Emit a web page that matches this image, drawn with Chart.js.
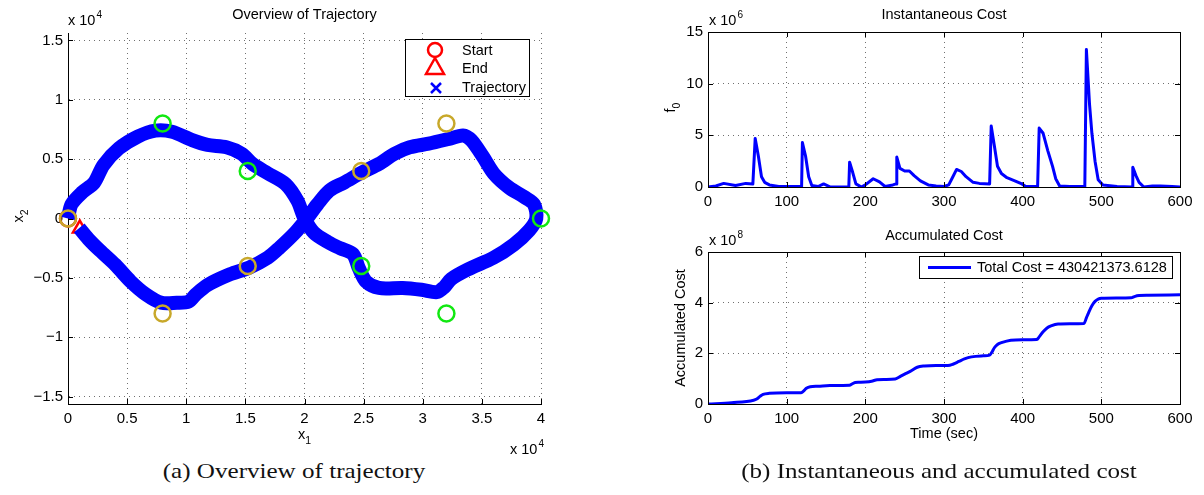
<!DOCTYPE html>
<html>
<head>
<meta charset="utf-8">
<script src="https://cdn.jsdelivr.net/npm/chart.js@4.4.1/dist/chart.umd.min.js"></script>
<style>
  body { margin: 0; background: #fff; width: 1204px; height: 495px; position: relative; overflow: hidden; }
  .pane { position: absolute; }
  .cap { position: absolute; top: 458px; font-family: "Liberation Serif", "DejaVu Serif", serif; font-size: 22px;
         color: #111; white-space: nowrap; transform: translateX(-50%) scaleX(1.14); }
</style>
</head>
<body>
<div class="pane" style="left:0;top:0;width:580px;height:455px"><canvas id="traj" width="580" height="455"></canvas></div>
<div class="pane" style="left:600px;top:0;width:604px;height:220px"><canvas id="inst" width="604" height="220"></canvas></div>
<div class="pane" style="left:600px;top:220px;width:604px;height:240px"><canvas id="acc" width="604" height="240"></canvas></div>
<div class="cap" style="left:294px">(a) Overview of trajectory</div>
<div class="cap" style="left:939px">(b) Instantaneous and accumulated cost</div>
<script>
// trajectory, in units of 1e4
const trajX = [0, 0.03, 0.12, 0.22, 0.30, 0.43, 0.59, 0.74, 0.88, 1.05, 1.18, 1.34, 1.47, 1.56, 1.69, 1.84, 1.94, 2.0,
  2.08, 2.2, 2.3, 2.41, 2.46, 2.52, 2.63, 2.83, 2.99, 3.12, 3.18, 3.24, 3.38, 3.60, 3.77, 3.90, 3.96, 3.94, 3.86, 3.73,
  3.60, 3.51, 3.41, 3.34, 3.22, 3.05, 2.89, 2.76, 2.63, 2.49, 2.34, 2.21, 2.11, 2.02, 1.92, 1.79, 1.69, 1.53, 1.37,
  1.18, 1.08, 1.02, 0.92, 0.79, 0.66, 0.53, 0.40, 0.27, 0.17, 0.095];
const trajY = [0, 0.12, 0.22, 0.30, 0.45, 0.59, 0.69, 0.74, 0.73, 0.66, 0.62, 0.60, 0.545, 0.46, 0.38, 0.29, 0.15, 0.0,
  -0.12, -0.2, -0.25, -0.30, -0.42, -0.53, -0.585, -0.585, -0.60, -0.62, -0.58, -0.51, -0.43, -0.33, -0.22, -0.10, 0.0,
  0.12, 0.18, 0.26, 0.38, 0.52, 0.66, 0.70, 0.67, 0.63, 0.60, 0.545, 0.46, 0.39, 0.305, 0.235, 0.12, 0.0, -0.12, -0.245,
  -0.33, -0.415, -0.47, -0.56, -0.64, -0.70, -0.71, -0.71, -0.64, -0.53, -0.39, -0.27, -0.17, -0.08];
const startPt = { x: 0, y: 0 };
const endPt = { x: 0.1, y: -0.085 };
const greenX = [0.8, 1.52, 4.0, 2.48, 3.2];
const greenY = [0.8, 0.4, 0.0, -0.4, -0.8];
const goldX = [0, 0.8, 1.52, 2.48, 3.2];
const goldY = [0, -0.8, -0.4, 0.4, 0.8];
const trajXTicks = [0, 0.5, 1, 1.5, 2, 2.5, 3, 3.5, 4];
const trajYTicks = [-1.5, -1, -0.5, 0, 0.5, 1, 1.5];

// instantaneous cost, units of 1e6
const instTime = [0, 10, 20, 35, 48, 57, 60, 64, 68, 72, 78, 90, 119, 120, 124, 128, 132, 140, 147, 155,
  179, 180, 184, 188, 195, 200, 210, 218, 225, 235, 239, 240, 244, 250, 256, 262, 270, 280, 290, 300,
  306, 310, 316, 322, 328, 337, 345, 358, 360, 364, 368, 373, 380, 390, 399, 404, 419, 421, 426, 432,
  438, 442, 447, 460, 479, 481, 485, 488, 492, 496, 502, 520, 539, 540, 544, 548, 554, 565, 575, 590, 600];
const instCost = [0, 0.1, 0.35, 0.15, 0.35, 0.28, 4.7, 3.0, 1.0, 0.45, 0.2, 0.05, 0.05, 4.3, 3.0, 1.0, 0.15, 0.05, 0.3, 0.02,
  0.0, 2.4, 1.4, 0.3, 0.0, 0.2, 0.8, 0.5, 0.05, 0.2, 0.3, 2.9, 1.8, 1.55, 1.55, 1.1, 0.6, 0.2, 0.1, 0.05,
  0.2, 0.8, 1.7, 1.5, 1.0, 0.45, 0.35, 0.3, 5.9, 4.0, 2.0, 1.3, 0.9, 0.6, 0.3, 0.05, 0.05, 5.7, 5.2, 3.5,
  2.0, 0.8, 0.1, 0.05, 0.05, 13.3, 8.0, 5.2, 2.5, 0.7, 0.2, 0.05, 0.0, 1.9, 1.1, 0.45, 0.0, 0.1, 0.1, 0.05, 0];

// accumulated cost, units of 1e8
const accTime = [0, 30, 58, 62, 66, 70, 78, 100, 118, 121, 125, 130, 140, 155, 180, 183, 187, 192, 200, 208,
  215, 225, 238, 245, 250, 257, 266, 275, 290, 305, 312, 319, 326, 335, 350, 358, 361, 364, 368, 373,
  385, 400, 418, 421, 426, 431, 436, 445, 460, 478, 481, 484, 488, 492, 496, 500, 520, 538, 542, 548, 560, 600];
const accCost = [0, 0.05, 0.15, 0.2, 0.3, 0.38, 0.42, 0.44, 0.44, 0.5, 0.62, 0.68, 0.70, 0.73, 0.74, 0.79, 0.85, 0.86, 0.87, 0.9,
  0.96, 0.97, 0.99, 1.1, 1.18, 1.29, 1.45, 1.5, 1.52, 1.52, 1.58, 1.68, 1.78, 1.86, 1.9, 1.93, 2.05, 2.22, 2.35, 2.42,
  2.52, 2.54, 2.55, 2.65, 2.85, 3.0, 3.08, 3.16, 3.17, 3.18, 3.4, 3.62, 3.88, 4.05, 4.14, 4.17, 4.18, 4.19, 4.24, 4.28, 4.29, 4.31];
const timeTicks = [0, 100, 200, 300, 400, 500, 600];
const instTicks = [0, 5, 10, 15];
const accTicks = [0, 2, 4, 6];
const totalCostLabel = "Total Cost = 430421373.6128";

const FAMILY = '"Liberation Sans", Arial, sans-serif';
const FS = 14.5;
const TICK_FS = 15;
const f = (sz) => sz + "px " + FAMILY;
const BLUE = "#0000ff";
const GRID = "#707070";

function pts(xs, ys) { return xs.map((x, i) => ({ x: x, y: ys[i] })); }
function fmt(v) { return v < 0 ? "\u2212" + Math.abs(v) : String(v); }

function expLabel(ctx, x, y, exp) {
  ctx.fillStyle = "#000"; ctx.textAlign = "left"; ctx.textBaseline = "middle";
  ctx.font = f(FS); ctx.fillText("x 10", x, y);
  const w = ctx.measureText("x 10").width;
  ctx.font = f(10); ctx.fillText(exp, x + w + 1, y - 6);
}

function subLabel(ctx, x, y, base, sub, rot) {
  ctx.save(); ctx.translate(x, y); if (rot) ctx.rotate(-Math.PI / 2);
  ctx.fillStyle = "#000"; ctx.textAlign = "left"; ctx.textBaseline = "middle";
  ctx.font = f(FS); const w = ctx.measureText(base).width;
  ctx.font = f(10.5); const w2 = ctx.measureText(sub).width;
  ctx.font = f(FS); ctx.fillText(base, -(w + w2) / 2, 0);
  ctx.font = f(10.5); ctx.fillText(sub, -(w + w2) / 2 + w, 6);
  ctx.restore();
}

function centerText(ctx, txt, x, y, rot) {
  ctx.save(); ctx.translate(x, y); if (rot) ctx.rotate(-Math.PI / 2);
  ctx.fillStyle = "#000"; ctx.font = f(FS); ctx.textAlign = "center"; ctx.textBaseline = "middle";
  ctx.fillText(txt, 0, 0); ctx.restore();
}

function innerTicks(chart, full) {
  const { ctx, chartArea: a, scales: { x, y } } = chart;
  const L = 5;
  ctx.save(); ctx.strokeStyle = "#000"; ctx.lineWidth = 1; ctx.beginPath();
  x.ticks.forEach(t => {
    const p = Math.round(x.getPixelForValue(t.value)) + 0.5;
    ctx.moveTo(p, a.bottom); ctx.lineTo(p, a.bottom - L);
    if (full) { ctx.moveTo(p, a.top); ctx.lineTo(p, a.top + L); }
  });
  y.ticks.forEach(t => {
    const p = Math.round(y.getPixelForValue(t.value)) + 0.5;
    ctx.moveTo(a.left, p); ctx.lineTo(a.left + L, p);
    if (full) { ctx.moveTo(a.right, p); ctx.lineTo(a.right - L, p); }
  });
  ctx.stroke();
  if (full) {
    ctx.strokeRect(Math.round(a.left) + 0.5, Math.round(a.top) + 0.5, Math.round(a.right - a.left), Math.round(a.bottom - a.top));
  }
  ctx.restore();
}

function axisOpts(min, max, tickList, fit, isX) {
  return {
    type: "linear", min: min, max: max,
    afterBuildTicks: s => { s.ticks = tickList.map(v => ({ value: v })); },
    afterFit: s => { if (isX) s.height = fit; else s.width = fit; },
    ticks: { color: "#000", font: { family: FAMILY, size: TICK_FS }, padding: isX ? 6 : 5,
             maxRotation: 0, autoSkip: false, callback: v => fmt(v) },
    grid: { color: GRID, lineWidth: 1, drawTicks: false },
    border: { display: false, dash: [1, 4] }
  };
}

const base = {
  responsive: false, animation: false, events: [],
  plugins: { legend: { display: false }, tooltip: { enabled: false }, title: { display: false } }
};

// (a) trajectory
new Chart(document.getElementById("traj"), {
  type: "scatter",
  data: {
    datasets: [
      { data: pts(greenX, greenY), pointStyle: "circle", pointRadius: 8, pointBorderWidth: 2.5,
        pointBorderColor: "#11e811", pointBackgroundColor: "rgba(0,0,0,0)", clip: false, order: 0 },
      { data: pts(goldX, goldY), pointStyle: "circle", pointRadius: 8, pointBorderWidth: 2.5,
        pointBorderColor: "#c8a82a", pointBackgroundColor: "rgba(0,0,0,0)", clip: false, order: 0 },
      { data: pts(trajX, trajY), showLine: true, borderColor: BLUE, borderWidth: 14, pointRadius: 0,
        tension: 0.3, borderJoinStyle: "round", borderCapStyle: "butt", clip: false, order: 1 },
      { data: [endPt], pointStyle: "triangle", pointRadius: 8, pointBorderWidth: 2.5,
        pointBorderColor: "#ff0000", pointBackgroundColor: "rgba(0,0,0,0)", clip: false, order: 2 },
      { data: [startPt], pointStyle: "circle", pointRadius: 8, pointBorderWidth: 2.5,
        pointBorderColor: "#ff0000", pointBackgroundColor: "rgba(0,0,0,0)", clip: false, order: 3 }
    ]
  },
  options: Object.assign({}, base, {
    layout: { padding: { top: 33, right: 39, left: 0, bottom: 0 } },
    scales: {
      x: Object.assign(axisOpts(0, 4, trajXTicks, 51, true), { border: { display: true, color: "#000", width: 1, dash: [1, 4] } }),
      y: Object.assign(axisOpts(-1.5625, 1.5625, trajYTicks, 68, false), { border: { display: true, color: "#000", width: 1, dash: [1, 4] } })
    }
  }),
  plugins: [{
    id: "deco",
    afterDraw(chart) {
      const { ctx, chartArea: a } = chart;
      innerTicks(chart, false);
      centerText(ctx, "Overview of Trajectory", (a.left + a.right) / 2, 15);
      expLabel(ctx, a.left, 21, "4");
      expLabel(ctx, 510, 450, "4");
      subLabel(ctx, (a.left + a.right) / 2, 435, "x", "1", false);
      subLabel(ctx, 19, 216, "x", "2", true);
      // legend
      ctx.save();
      ctx.fillStyle = "#fff"; ctx.fillRect(405, 39, 124, 58);
      ctx.strokeStyle = "#000"; ctx.lineWidth = 1; ctx.strokeRect(405.5, 39.5, 124, 57);
      ctx.strokeStyle = "#ff0000"; ctx.lineWidth = 2.5;
      ctx.beginPath(); ctx.arc(435, 50, 7, 0, Math.PI * 2); ctx.stroke();
      ctx.beginPath(); ctx.moveTo(435, 58); ctx.lineTo(444, 74); ctx.lineTo(426, 74); ctx.closePath(); ctx.stroke();
      ctx.strokeStyle = BLUE;
      ctx.beginPath(); ctx.moveTo(431, 83); ctx.lineTo(441, 93); ctx.moveTo(441, 83); ctx.lineTo(431, 93); ctx.stroke();
      ctx.fillStyle = "#000"; ctx.font = f(FS); ctx.textAlign = "left"; ctx.textBaseline = "middle";
      ctx.fillText("Start", 462, 51); ctx.fillText("End", 462, 69); ctx.fillText("Trajectory", 462, 88);
      ctx.restore();
    }
  }]
});

// (b) instantaneous cost
new Chart(document.getElementById("inst"), {
  type: "line",
  data: { datasets: [{ data: pts(instTime, instCost), borderColor: BLUE, borderWidth: 3, pointRadius: 0, tension: 0,
                       borderJoinStyle: "round" }] },
  options: Object.assign({}, base, {
    layout: { padding: { top: 32, right: 24, left: 0, bottom: 0 } },
    scales: { x: axisOpts(0, 600, timeTicks, 33, true), y: axisOpts(0, 15, instTicks, 108, false) }
  }),
  plugins: [{
    id: "deco",
    afterDraw(chart) {
      const { ctx, chartArea: a } = chart;
      innerTicks(chart, true);
      centerText(ctx, "Instantaneous Cost", (a.left + a.right) / 2, 15);
      expLabel(ctx, a.left + 1, 21, "6");
      subLabel(ctx, 71, (a.top + a.bottom) / 2 - 2, "f", "0", true);
    }
  }]
});

// (b) accumulated cost
new Chart(document.getElementById("acc"), {
  type: "line",
  data: { datasets: [{ data: pts(accTime, accCost), borderColor: BLUE, borderWidth: 3, pointRadius: 0,
                        cubicInterpolationMode: "monotone" }] },
  options: Object.assign({}, base, {
    layout: { padding: { top: 32, right: 24, left: 0, bottom: 0 } },
    scales: { x: axisOpts(0, 600, timeTicks, 56, true), y: axisOpts(0, 6, accTicks, 108, false) }
  }),
  plugins: [{
    id: "deco",
    afterDraw(chart) {
      const { ctx, chartArea: a } = chart;
      innerTicks(chart, true);
      centerText(ctx, "Accumulated Cost", (a.left + a.right) / 2, 16);
      expLabel(ctx, a.left + 1, 21, "8");
      centerText(ctx, "Accumulated Cost", 81, (a.top + a.bottom) / 2, true);
      centerText(ctx, "Time (sec)", (a.left + a.right) / 2, 214);
      // legend
      ctx.save();
      ctx.fillStyle = "#fff"; ctx.fillRect(319, 36, 254, 23);
      ctx.strokeStyle = "#000"; ctx.lineWidth = 1; ctx.strokeRect(319.5, 36.5, 253, 22);
      ctx.strokeStyle = BLUE; ctx.lineWidth = 3;
      ctx.beginPath(); ctx.moveTo(328, 47.5); ctx.lineTo(371, 47.5); ctx.stroke();
      ctx.fillStyle = "#000"; ctx.font = f(FS); ctx.textAlign = "left"; ctx.textBaseline = "middle";
      ctx.fillText(totalCostLabel, 377, 48);
      ctx.restore();
    }
  }]
});
</script>
</body>
</html>
